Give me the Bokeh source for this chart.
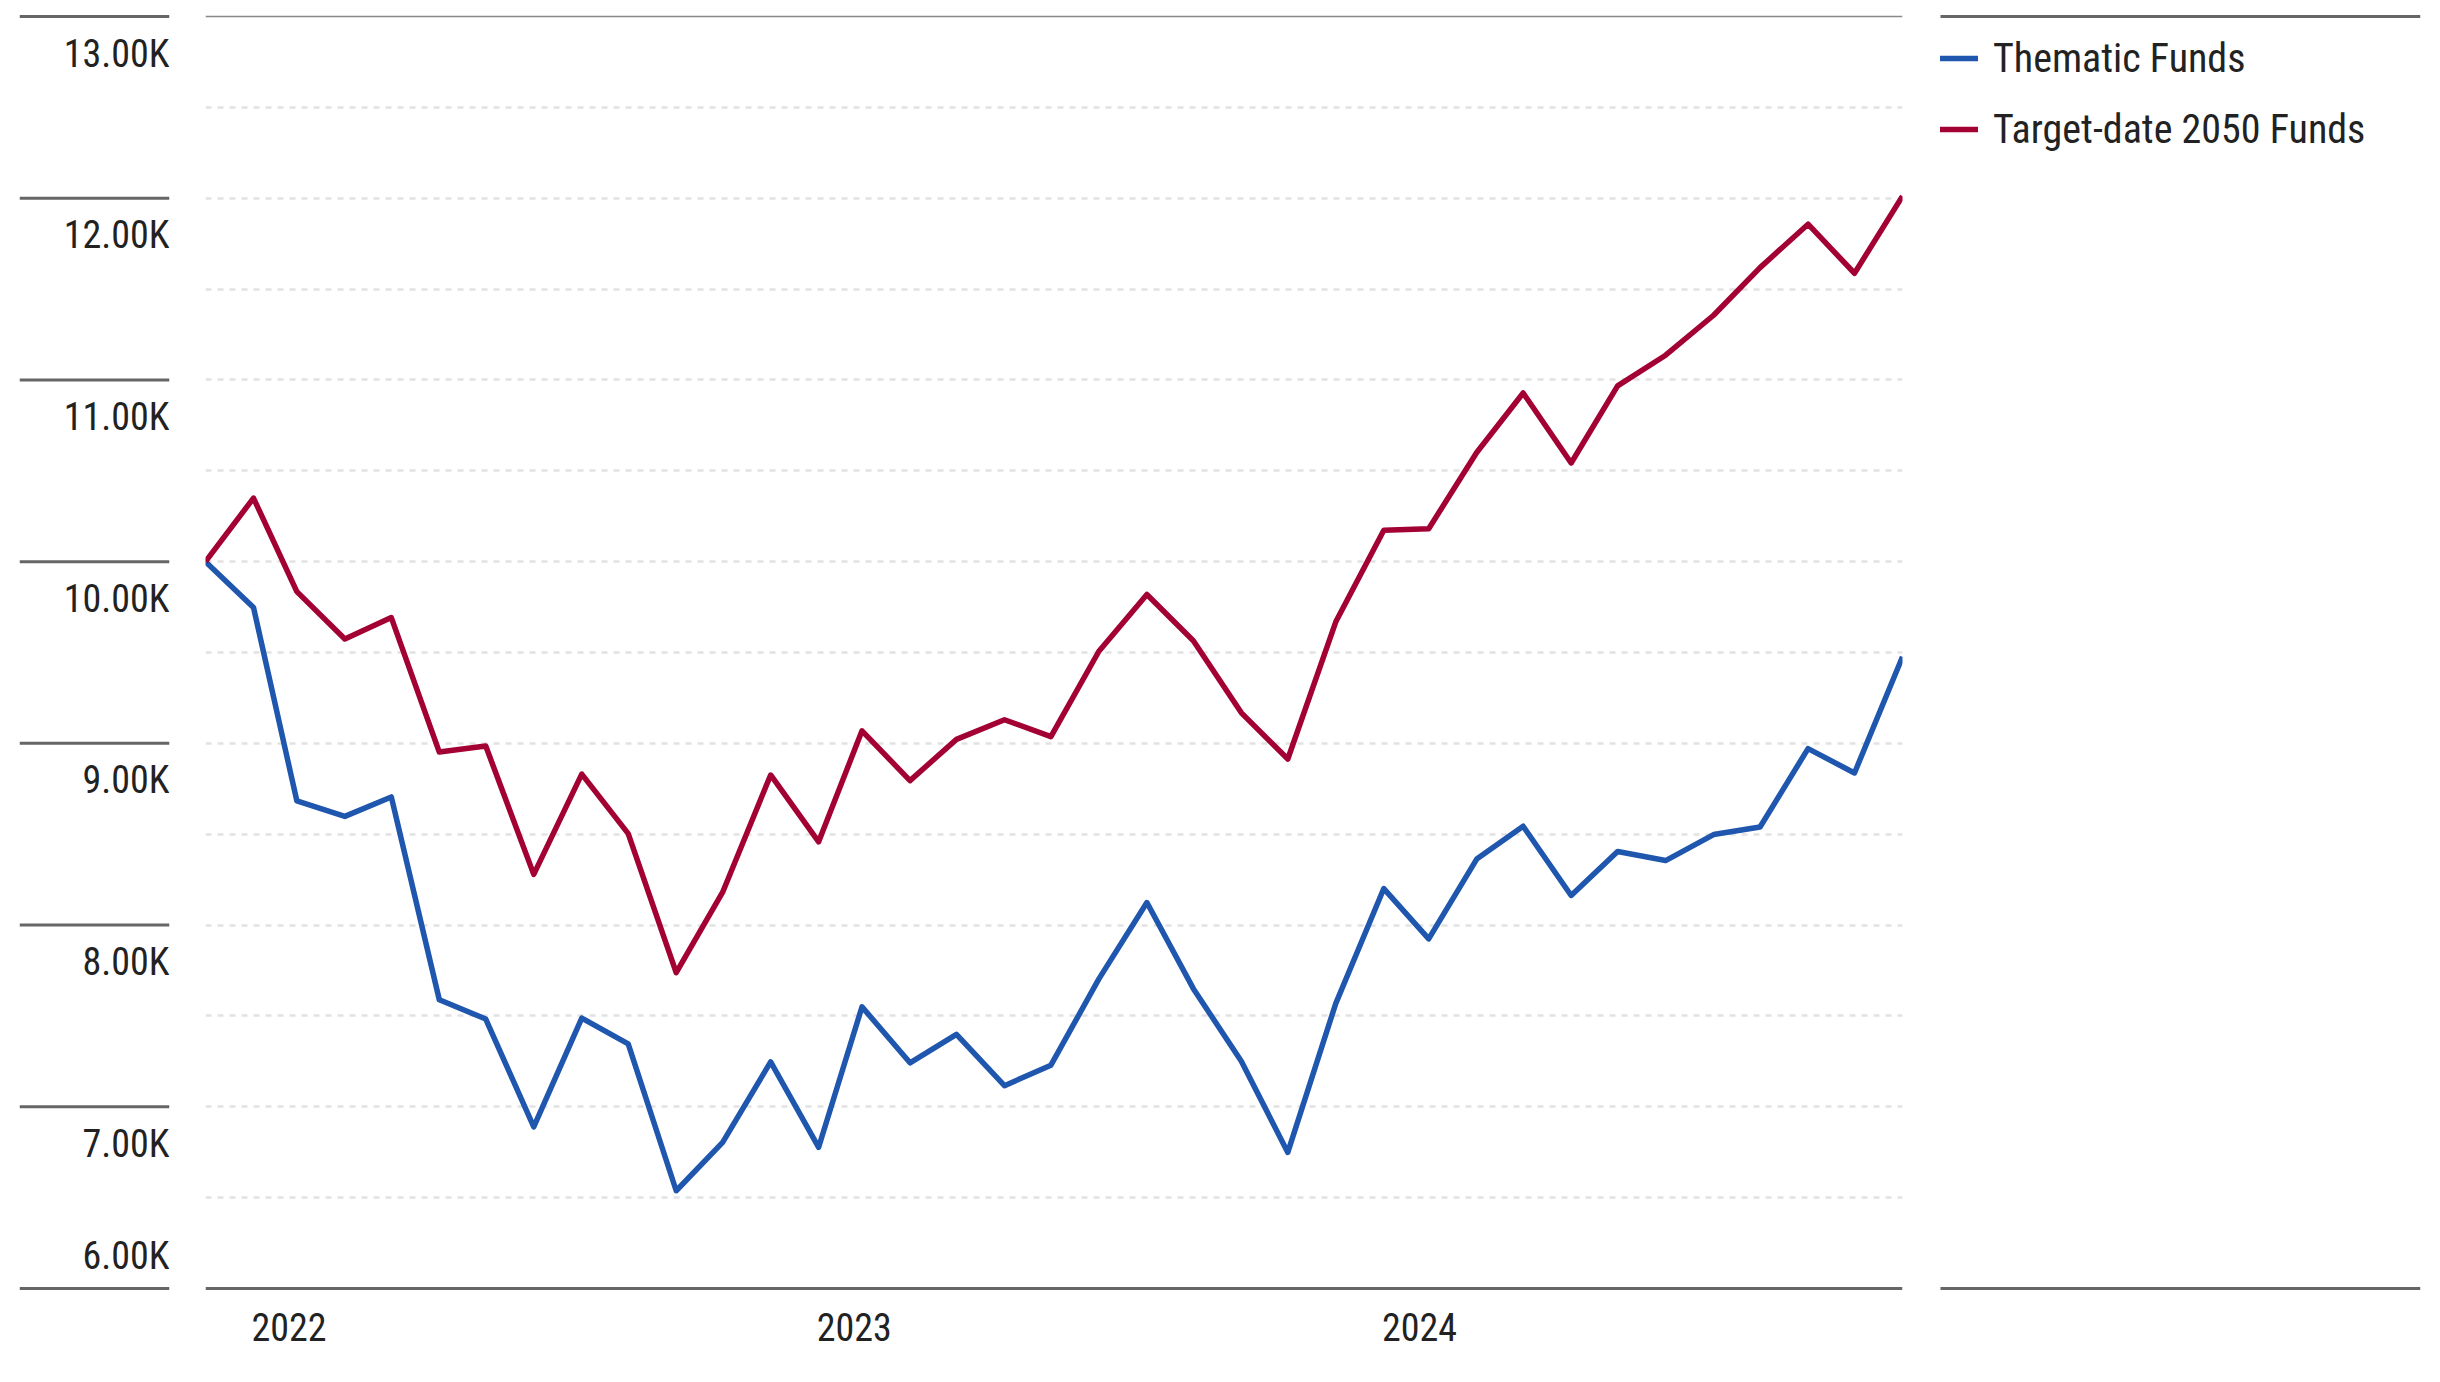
import pandas as pd
from bokeh.plotting import figure
from bokeh.layouts import row
from bokeh.models import Range1d, FixedTicker, Span, Legend, LegendItem, ColumnDataSource, Grid
from bokeh.core.properties import value
from bokeh.embed import file_html
from bokeh.resources import INLINE

# ---------------- data ----------------
dates = pd.date_range("2021-12-31", "2024-12-31", freq="ME")
series_names = ["Thematic Funds", "Target-date 2050 Funds"]
thematic = [10000, 9748, 8683, 8598, 8705, 7589, 7483, 6889, 7488, 7346, 6538, 6804,
            7247, 6777, 7550, 7242, 7399, 7116, 7229, 7704, 8124, 7650, 7250, 6749,
            7569, 8201, 7924, 8363, 8544, 8163, 8405, 8355, 8498, 8540, 8971, 8837, 9476]
target2050 = [10000, 10350, 9835, 9574, 9692, 8952, 8985, 8279, 8831, 8503, 7738, 8181,
              8826, 8458, 9069, 8795, 9022, 9130, 9037, 9507, 9819, 9565, 9168, 8914,
              9669, 10173, 10181, 10601, 10928, 10543, 10967, 11136, 11356, 11618, 11857, 11587, 12011]
y_ticks = [6000, 7000, 8000, 9000, 10000, 11000, 12000, 13000]
y_labels = ["6.00K", "7.00K", "8.00K", "9.00K", "10.00K", "11.00K", "12.00K", "13.00K"]
grid_vals = [6500, 7000, 7500, 8000, 8500, 9000, 9500, 10000, 10500, 11000, 11500, 12000, 12500]
x_labels = ["2022", "2023", "2024"]

# ---------------- style ----------------
FONT = "Roboto Condensed, Roboto"
TEXT = "#222222"
BLUE = "#1F56AE"
RED = "#A30033"
LW = 5.5
H = 1382
TOP, BOTTOM = 12, 90
pad = (y_ticks[-1] - y_ticks[0]) * 4 / 1272
LABEL_SHIFT_MS = 23 * 24 * 3600 * 1000  # labels start at the January tick

yr = Range1d(y_ticks[0] - pad, y_ticks[-1] + pad)

# ---------------- left label column ----------------
left = figure(width=205, height=H, x_range=Range1d(0, 150), y_range=yr,
              x_axis_location=None, y_axis_location=None, toolbar_location=None,
              output_backend="svg", min_border_left=19, min_border_right=36,
              min_border_top=TOP, min_border_bottom=BOTTOM, outline_line_color=None)
left.grid.visible = False
for yv in y_ticks:
    left.add_layout(Span(location=yv, dimension="width", line_color="#666666", line_width=3))
src_up = ColumnDataSource(dict(x=[150] * (len(y_ticks) - 1), y=y_ticks[1:], t=y_labels[1:]))
left.text(x="x", y="y", text="t", source=src_up, text_align="right", text_baseline="alphabetic",
          y_offset=37, text_font=value(FONT), text_font_size="38px", text_color=TEXT)
src_lo = ColumnDataSource(dict(x=[150], y=y_ticks[:1], t=y_labels[:1]))
left.text(x="x", y="y", text="t", source=src_lo, text_align="right", text_baseline="alphabetic",
          y_offset=-33, text_font=value(FONT), text_font_size="38px", text_color=TEXT)

# ---------------- main plot ----------------
main = figure(width=1718, height=H, x_axis_type="datetime",
              x_range=Range1d(dates[0].to_pydatetime(), dates[-1].to_pydatetime()), y_range=yr,
              y_axis_location=None, toolbar_location=None, output_backend="svg",
              min_border_left=0, min_border_right=21, min_border_top=TOP, min_border_bottom=BOTTOM,
              outline_line_color=None)
main.grid.visible = False
main.add_layout(Grid(dimension=1, ticker=FixedTicker(ticks=grid_vals), grid_line_color="#e2e2e2",
                     grid_line_width=2.5, grid_line_dash="6 6"))
main.add_layout(Span(location=y_ticks[-1], dimension="width", line_color="#888888", line_width=1.5))
main.add_layout(Span(location=y_ticks[0], dimension="width", line_color="#666666", line_width=3))

src = ColumnDataSource(dict(date=dates, thematic=thematic, target=target2050))
main.line("date", "thematic", source=src, line_color=BLUE, line_width=LW, line_join="round")
main.line("date", "target", source=src, line_color=RED, line_width=LW, line_join="round")

year_ticks = [d.timestamp() * 1000 + LABEL_SHIFT_MS for d in dates if d.month == 1]
xa = main.xaxis[0]
xa.ticker = FixedTicker(ticks=year_ticks)
xa.major_label_overrides = {t: lab for t, lab in zip(year_ticks, x_labels)}
xa.axis_line_color = None
xa.major_tick_line_color = None
xa.minor_tick_line_color = None
xa.major_label_standoff = 14
xa.major_label_text_font = FONT
xa.major_label_text_font_size = "38px"
xa.major_label_text_color = TEXT

# ---------------- legend column ----------------
leg = figure(width=517, height=H, x_range=Range1d(0, 497), y_range=yr,
             x_axis_location=None, y_axis_location=None, toolbar_location=None,
             output_backend="svg", min_border_left=0, min_border_right=20,
             min_border_top=TOP, min_border_bottom=BOTTOM, outline_line_color=None)
leg.grid.visible = False
leg.segment(x0=[17, 17], x1=[497, 497], y0=[y_ticks[-1], y_ticks[0]], y1=[y_ticks[-1], y_ticks[0]],
            line_color="#666666", line_width=3)
# legend handles (kept outside the visible range)
r1 = leg.line(x=[-20, -10], y=y_ticks[:1] * 2, line_color=BLUE, line_width=LW, line_cap="round")
r2 = leg.line(x=[-20, -10], y=y_ticks[:1] * 2, line_color=RED, line_width=LW, line_cap="round")
legend = Legend(items=[LegendItem(label=series_names[0], renderers=[r1]),
                       LegendItem(label=series_names[1], renderers=[r2])],
                location="top_left", margin=17, padding=0, glyph_width=38, glyph_height=58,
                label_height=58, spacing=13, label_standoff=15, border_line_color=None,
                background_fill_alpha=0, label_text_font=FONT, label_text_font_size="40px",
                label_text_color=TEXT)
leg.add_layout(legend)

layout = row(left, main, leg)
open("out.html", "w").write(file_html(layout, INLINE))
